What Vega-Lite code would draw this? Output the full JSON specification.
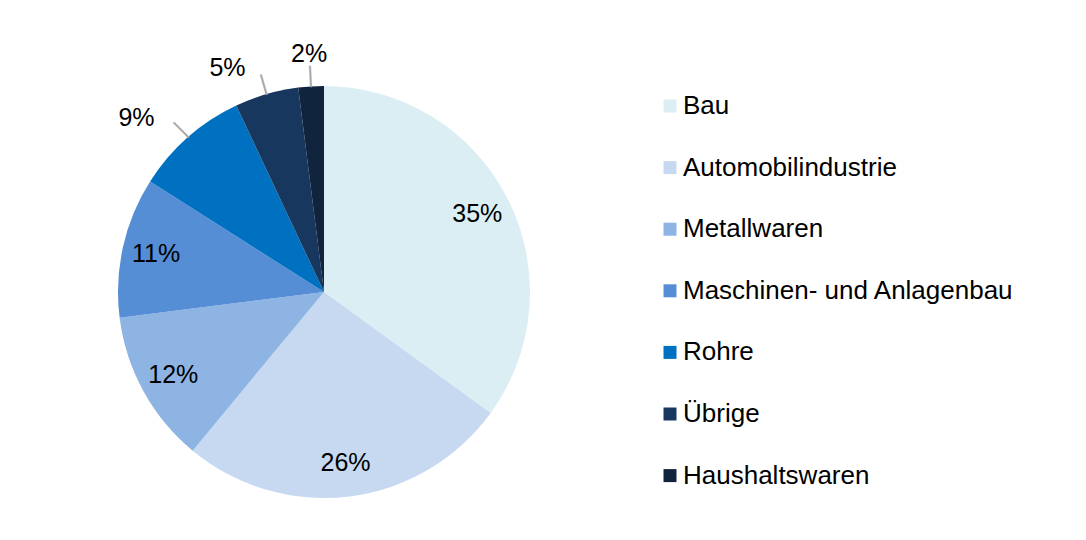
{
  "$schema": "https://vega.github.io/schema/vega-lite/v6.json",
  "width": 648,
  "height": 496,
  "autosize": {"type": "none"},
  "padding": {"top": 44, "left": 0, "right": 438, "bottom": 0},
  "background": "white",
  "config": {
    "view": {"stroke": null},
    "font": "Liberation Sans",
    "text": {"font": "Liberation Sans", "fontSize": 25, "color": "#000000"},
    "legend": {
      "orient": "none",
      "legendX": 657,
      "legendY": 49,
      "title": null,
      "labelFont": "Liberation Sans",
      "labelFontSize": 26,
      "labelColor": "#000000",
      "labelLimit": 400,
      "symbolType": "square",
      "symbolSize": 169,
      "symbolStrokeWidth": 0,
      "rowPadding": 35.6,
      "labelOffset": 0,
      "padding": 0
    }
  },
  "data": {
    "values": [
      {"cat": "Bau", "share": 0.35},
      {"cat": "Automobilindustrie", "share": 0.26},
      {"cat": "Metallwaren", "share": 0.12},
      {"cat": "Maschinen- und Anlagenbau", "share": 0.11},
      {"cat": "Rohre", "share": 0.09},
      {"cat": "Übrige", "share": 0.05},
      {"cat": "Haushaltswaren", "share": 0.02}
    ]
  },
  "transform": [{"window": [{"op": "row_number", "as": "idx"}]}],
  "encoding": {
    "theta": {"field": "share", "type": "quantitative", "stack": true},
    "order": {"field": "idx", "type": "quantitative"}
  },
  "layer": [
    {
      "mark": {"type": "arc", "outerRadius": 206},
      "encoding": {
        "color": {
          "field": "cat",
          "type": "nominal",
          "sort": null,
          "scale": {
            "domain": ["Bau", "Automobilindustrie", "Metallwaren", "Maschinen- und Anlagenbau", "Rohre", "Übrige", "Haushaltswaren"],
            "range": ["#DAEEF3", "#C6D9F1", "#8DB4E2", "#558ED5", "#0070C0", "#17375E", "#10243E"]
          }
        }
      }
    },
    {
      "mark": {"type": "text", "radius": 172},
      "encoding": {
        "detail": {"field": "cat", "type": "nominal"},
        "text": {
          "condition": {"test": "datum.share >= 0.1", "field": "share", "type": "quantitative", "format": ".0%"},
          "value": ""
        }
      }
    },
    {
      "mark": {"type": "text", "radius": 238, "align": "right", "dx": -12, "dy": 5},
      "encoding": {
        "detail": {"field": "cat", "type": "nominal"},
        "text": {
          "condition": {"test": "datum.cat == 'Rohre' || datum.cat == 'Übrige'", "field": "share", "type": "quantitative", "format": ".0%"},
          "value": ""
        }
      }
    },
    {
      "mark": {"type": "text", "radius": 238, "align": "center"},
      "encoding": {
        "detail": {"field": "cat", "type": "nominal"},
        "text": {
          "condition": {"test": "datum.cat == 'Haushaltswaren'", "field": "share", "type": "quantitative", "format": ".0%"},
          "value": ""
        }
      }
    },
    {
      "mark": {"type": "text", "radius": 217, "fontSize": 23, "color": "#A6A6A6", "baseline": "middle"},
      "encoding": {
        "detail": {"field": "cat", "type": "nominal"},
        "text": {
          "condition": {"test": "datum.share < 0.1", "value": "|"},
          "value": ""
        },
        "angle": {
          "condition": [
            {"test": "datum.cat == 'Rohre'", "value": -45},
            {"test": "datum.cat == 'Übrige'", "value": -16}
          ],
          "value": -3
        }
      }
    }
  ]
}
